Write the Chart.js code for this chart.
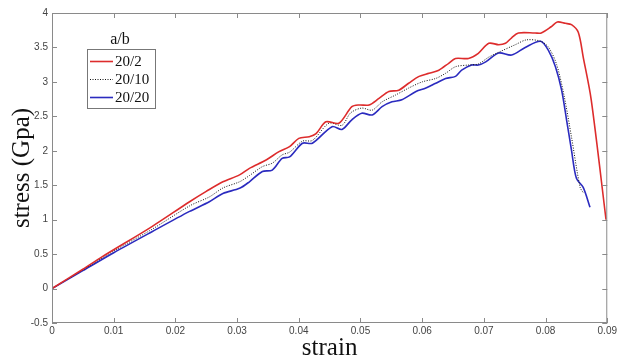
<!DOCTYPE html>
<html>
<head>
<meta charset="utf-8">
<script src="https://cdn.jsdelivr.net/npm/chart.js@4"></script>
<style>
  html, body { margin: 0; padding: 0; background: #fff; }
  #wrap { width: 619px; height: 361px; }
</style>
</head>
<body>
<div id="wrap"><canvas id="myChart"></canvas></div>
<script>
// a/b = 20/2
const strain202 = [0, 0.005, 0.0081, 0.0162, 0.0223, 0.025, 0.0277, 0.0304, 0.032, 0.0347, 0.0368, 0.0385, 0.04, 0.0417, 0.0428, 0.0444, 0.0465, 0.0486, 0.0498, 0.0514, 0.053, 0.0546, 0.0562, 0.0578, 0.0595, 0.0611, 0.0627, 0.0643, 0.0654, 0.0675, 0.0691, 0.0708, 0.0724, 0.0735, 0.0745, 0.0756, 0.0783, 0.0793, 0.0809, 0.0819, 0.0832, 0.0842, 0.0853, 0.0861, 0.0874, 0.0898];
const stress202 = [0, 0.28, 0.46, 0.9, 1.26, 1.41, 1.55, 1.65, 1.745, 1.866, 1.987, 2.06, 2.18, 2.205, 2.25, 2.42, 2.4, 2.64, 2.665, 2.665, 2.76, 2.86, 2.88, 2.98, 3.08, 3.125, 3.17, 3.27, 3.34, 3.34, 3.415, 3.56, 3.54, 3.56, 3.64, 3.71, 3.71, 3.71, 3.8, 3.87, 3.85, 3.83, 3.72, 3.36, 2.74, 1.0];

// a/b = 20/10
const strain2010 = [0, 0.005, 0.01, 0.0162, 0.0223, 0.0255, 0.0277, 0.0304, 0.032, 0.0341, 0.0357, 0.0373, 0.0385, 0.0406, 0.0422, 0.0449, 0.047, 0.0484, 0.0502, 0.0519, 0.0535, 0.0557, 0.0578, 0.06, 0.0622, 0.0638, 0.0654, 0.0675, 0.0691, 0.0708, 0.0724, 0.0751, 0.0769, 0.0792, 0.0805, 0.0818, 0.083, 0.0842, 0.0856, 0.0862];
const stress2010 = [0, 0.27, 0.545, 0.86, 1.2, 1.33, 1.46, 1.55, 1.64, 1.77, 1.82, 1.94, 1.98, 2.14, 2.15, 2.4, 2.37, 2.55, 2.62, 2.59, 2.71, 2.81, 2.91, 3.0, 3.05, 3.125, 3.22, 3.245, 3.26, 3.36, 3.43, 3.54, 3.61, 3.59, 3.5, 3.25, 2.8, 2.2, 1.47, 1.38];

// a/b = 20/20
const strain2020 = [0, 0.005, 0.01, 0.0162, 0.0223, 0.0255, 0.0277, 0.0304, 0.032, 0.0341, 0.0357, 0.0373, 0.0385, 0.0406, 0.0422, 0.0454, 0.047, 0.0486, 0.0502, 0.0519, 0.0535, 0.0551, 0.0567, 0.059, 0.0606, 0.0622, 0.0638, 0.0654, 0.0664, 0.068, 0.0691, 0.0703, 0.0724, 0.0745, 0.0767, 0.0792, 0.0805, 0.0816, 0.0826, 0.0834, 0.0842, 0.085, 0.0861, 0.0872];
const stress2020 = [0, 0.26, 0.52, 0.825, 1.12, 1.26, 1.38, 1.455, 1.55, 1.7, 1.72, 1.89, 1.91, 2.11, 2.11, 2.35, 2.31, 2.45, 2.545, 2.52, 2.64, 2.71, 2.74, 2.86, 2.91, 2.98, 3.05, 3.08, 3.17, 3.245, 3.245, 3.29, 3.42, 3.39, 3.5, 3.59, 3.45, 3.22, 2.88, 2.45, 2.01, 1.6, 1.47, 1.18];

const seriesLabels = ["20/2", "20/10", "20/20"];
const legendTitle = "a/b";

function pts(xs, ys) {
    return xs.map((x, i) => ({x: x, y: ys[i]}));
}

// matlab style box with ticks pointing inwards + legend box
const matlabBox = {
    id: 'matlabBox',
    afterDraw(chart) {
        const ctx = chart.ctx;
        const a = chart.chartArea;
        const xs = chart.scales.x, ys = chart.scales.y;
        ctx.save();
        ctx.strokeStyle = '#8a8a8a';
        ctx.lineWidth = 1;
        ctx.strokeRect(a.left + 0.5, a.top + 0.5, a.right - a.left - 1, a.bottom - a.top - 1);
        ctx.beginPath();
        xs.ticks.forEach(t => {
            const px = Math.round(xs.getPixelForValue(t.value)) + 0.5;
            ctx.moveTo(px, a.bottom); ctx.lineTo(px, a.bottom - 5);
            ctx.moveTo(px, a.top); ctx.lineTo(px, a.top + 5);
        });
        ys.ticks.forEach(t => {
            const py = Math.round(ys.getPixelForValue(t.value)) + 0.5;
            ctx.moveTo(a.left, py); ctx.lineTo(a.left + 5, py);
            ctx.moveTo(a.right, py); ctx.lineTo(a.right - 5, py);
        });
        ctx.stroke();

        // legend
        const bx = 87, by = 49, bw = 68, bh = 59;
        ctx.fillStyle = '#fff';
        ctx.fillRect(bx, by, bw, bh);
        ctx.strokeStyle = '#777';
        ctx.strokeRect(bx + 0.5, by + 0.5, bw, bh);
        ctx.fillStyle = '#111';
        ctx.font = '16px "Liberation Serif"';
        ctx.textAlign = 'center';
        ctx.textBaseline = 'middle';
        ctx.fillText(legendTitle, 120, 40);
        ctx.textAlign = 'left';
        ctx.font = '15px "Liberation Serif"';
        chart.data.datasets.forEach((ds, i) => {
            const y = 61 + i * 18;
            ctx.strokeStyle = ds.borderColor;
            ctx.lineWidth = ds.borderWidth;
            ctx.setLineDash(ds.borderDash || []);
            ctx.beginPath();
            ctx.moveTo(90, y + 0.5); ctx.lineTo(113, y + 0.5);
            ctx.stroke();
            ctx.setLineDash([]);
            ctx.fillText(ds.label, 115, y + 1);
        });
        ctx.restore();
    }
};

new Chart("myChart", {
    type: "line",
    data: {
        datasets: [{
            label: seriesLabels[0],
            data: pts(strain202, stress202),
            borderColor: "#dd2c2c",
            borderWidth: 1.6,
            tension: 0.3
        }, {
            label: seriesLabels[1],
            data: pts(strain2010, stress2010),
            borderColor: "#111111",
            borderWidth: 1,
            borderDash: [1, 1.5],
            tension: 0.3
        }, {
            label: seriesLabels[2],
            data: pts(strain2020, stress2020),
            borderColor: "#2b2bbf",
            borderWidth: 1.6,
            tension: 0.3
        }]
    },
    options: {
        responsive: true,
        maintainAspectRatio: false,
        animation: false,
        elements: { point: { radius: 0 } },
        layout: { padding: { top: 13, right: 10, left: 0, bottom: 0 } },
        plugins: {
            legend: { display: false },
            tooltip: { enabled: false }
        },
        scales: {
            x: {
                type: 'linear',
                min: 0,
                max: 0.09,
                afterFit: s => { s.height = 38; },
                ticks: {
                    stepSize: 0.01,
                    padding: 2,
                    color: '#444',
                    font: { family: 'Liberation Sans', size: 10 },
                    maxRotation: 0,
                    callback: v => String(+v.toFixed(2))
                },
                grid: { display: false, drawTicks: false },
                border: { display: false },
                title: {
                    display: true,
                    text: 'strain',
                    color: '#111',
                    font: { family: 'Liberation Serif', size: 25, lineHeight: 1 },
                    padding: { top: 0, bottom: 0 }
                }
            },
            y: {
                min: -0.5,
                max: 4,
                afterFit: s => { s.width = 52; },
                ticks: {
                    stepSize: 0.5,
                    padding: 4,
                    color: '#444',
                    font: { family: 'Liberation Sans', size: 10 },
                    callback: v => String(+v.toFixed(1))
                },
                grid: { display: false, drawTicks: false },
                border: { display: false },
                title: {
                    display: true,
                    text: 'stress (Gpa)',
                    color: '#111',
                    font: { family: 'Liberation Serif', size: 25, lineHeight: 1 },
                    padding: { top: 10, bottom: 0 }
                }
            }
        }
    },
    plugins: [matlabBox]
});
</script>
</body>
</html>
